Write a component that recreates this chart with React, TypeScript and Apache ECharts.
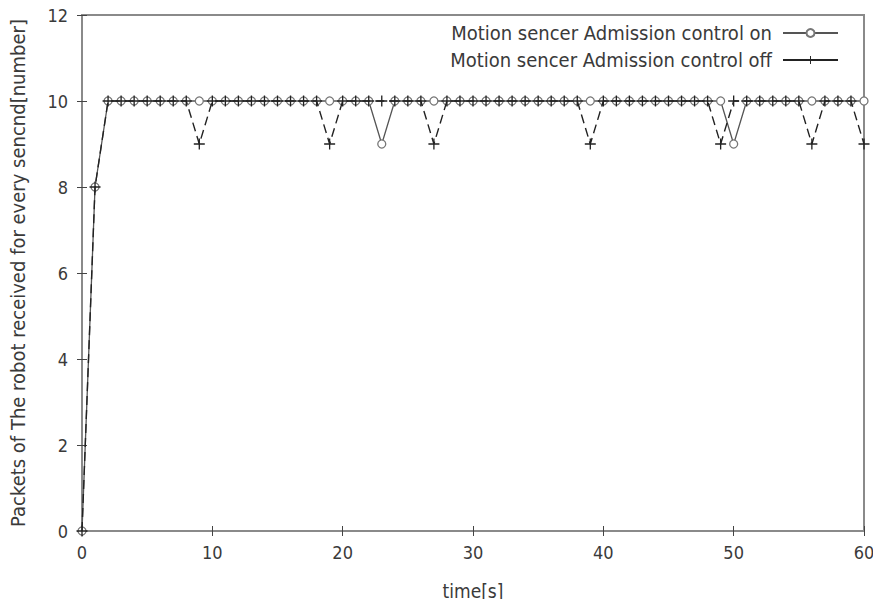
import React, { useEffect, useRef } from "react";
import * as echarts from "echarts";

const times: number[] = Array.from({ length: 61 }, (_, i) => i);
const onValues: number[] = [
  0, 8, 10, 10, 10, 10, 10, 10, 10, 10, 10, 10, 10, 10, 10, 10, 10, 10, 10, 10,
  10, 10, 10, 9, 10, 10, 10, 10, 10, 10, 10, 10, 10, 10, 10, 10, 10, 10, 10, 10,
  10, 10, 10, 10, 10, 10, 10, 10, 10, 10, 9, 10, 10, 10, 10, 10, 10, 10, 10, 10,
  10,
];
const offValues: number[] = [
  0, 8, 10, 10, 10, 10, 10, 10, 10, 9, 10, 10, 10, 10, 10, 10, 10, 10, 10, 9,
  10, 10, 10, 10, 10, 10, 10, 9, 10, 10, 10, 10, 10, 10, 10, 10, 10, 10, 10, 9,
  10, 10, 10, 10, 10, 10, 10, 10, 10, 9, 10, 10, 10, 10, 10, 10, 9, 10, 10, 10,
  9,
];
const seriesNames = [
  "Motion sencer Admission control on",
  "Motion sencer Admission control off",
];

const plusSymbol =
  "path://M4.4,0h1.2v4.4h4.4v1.2h-4.4v4.4h-1.2v-4.4h-4.4v-1.2h4.4z";

export default function App() {
  const ref = useRef<HTMLDivElement>(null);
  useEffect(() => {
    if (!ref.current) return;
    const chart = echarts.init(ref.current, undefined, { renderer: "svg" });
    const font = "'Liberation Sans Narrow', 'DejaVu Sans Condensed', 'Liberation Sans', sans-serif";
    const txt = "#3a3a3a";
    const axisLine = { show: true, lineStyle: { color: "#8a8a8a", width: 2 } };
    const tick = { show: true, inside: true, length: 5, lineStyle: { color: "#444" } };
    chart.setOption({
      animation: false,
      backgroundColor: "#fff",
      textStyle: { fontFamily: font },
      grid: {
        left: 82,
        right: 17,
        top: 15,
        bottom: 76,
        show: true,
        borderColor: "#8a8a8a",
        borderWidth: 2,
        outerBoundsMode: "none",
        containLabel: false,
      },
      legend: {
        orient: "vertical",
        right: 37,
        top: 18,
        align: "right",
        itemWidth: 55,
        itemHeight: 10,
        itemGap: 7,
        textStyle: { fontSize: 20, color: txt, fontFamily: font, padding: [0, 6, 0, 0] },
        data: [
          { name: seriesNames[0] },
          { name: seriesNames[1], lineStyle: { type: "solid" } },
        ],
      },
      xAxis: [
        {
          type: "value",
          min: 0,
          max: 60,
          interval: 10,
          name: "time[s]",
          nameLocation: "middle",
          nameGap: 50,
          nameTextStyle: { fontSize: 19, color: txt, fontFamily: font },
          axisLine,
          axisTick: tick,
          axisLabel: { fontSize: 18, color: txt, margin: 12, fontFamily: font },
          splitLine: { show: false },
        },
        {
          type: "value",
          position: "top",
          min: 0,
          max: 60,
          interval: 10,
          axisLine,
          axisTick: tick,
          axisLabel: { show: false },
          splitLine: { show: false },
        },
      ],
      yAxis: [
        {
          type: "value",
          min: 0,
          max: 12,
          interval: 2,
          name: "Packets of The robot received for every sencnd[number]",
          nameLocation: "middle",
          nameGap: 54,
          nameTextStyle: { fontSize: 20, color: txt, fontFamily: font },
          axisLine,
          axisTick: tick,
          axisLabel: { fontSize: 18, color: txt, margin: 14, fontFamily: font },
          splitLine: { show: false },
        },
        {
          type: "value",
          position: "right",
          min: 0,
          max: 12,
          interval: 2,
          axisLine,
          axisTick: tick,
          axisLabel: { show: false },
          splitLine: { show: false },
        },
      ],
      series: [
        {
          name: seriesNames[0],
          type: "line",
          data: times.map((t, i) => [t, onValues[i]]),
          symbol: "circle",
          symbolSize: 8,
          showAllSymbol: true,
          lineStyle: { color: "#555", width: 1.3, type: "solid" },
          itemStyle: { color: "#fff", borderColor: "#777", borderWidth: 1.3 },
          z: 2,
        },
        {
          name: seriesNames[1],
          type: "line",
          data: times.map((t, i) => [t, offValues[i]]),
          symbol: plusSymbol,
          symbolSize: 11,
          showAllSymbol: true,
          lineStyle: { color: "#222", width: 1.4, type: [9, 5] },
          itemStyle: { color: "#222" },
          z: 3,
        },
      ],
    });
    return () => chart.dispose();
  }, []);
  return <div ref={ref} style={{ width: 881, height: 607, margin: -8 }} />;
}
